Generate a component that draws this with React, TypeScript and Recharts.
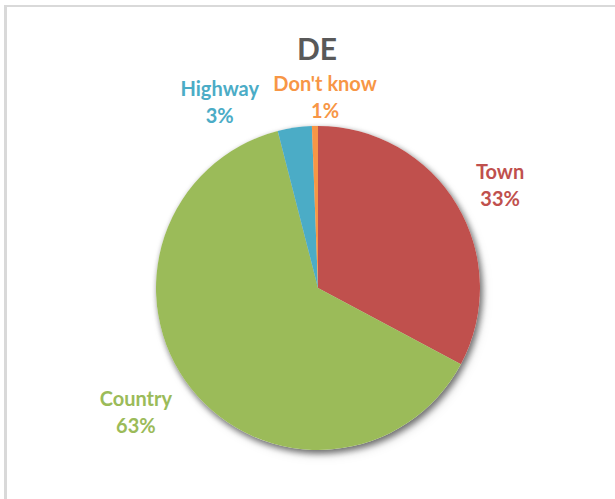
import { PieChart, Pie, Cell } from "recharts";

// road type shares for DE, clockwise from 12 o'clock
const categories = ["Town", "Country", "Highway", "Don't know"];
const shares = [32.8, 63.2, 3.4, 0.6];
const colors = ["#C0504D", "#9BBB59", "#4BACC6", "#F79646"];

const data = categories.map((name, i) => ({ name, value: shares[i] }));

const RADIAN = Math.PI / 180;

// Excel "best fit" label placement, nudged away from the mid-angle point
const labelNudge: Record<string, [number, number]> = {
  Town: [2, 5],
  Country: [-17, -6],
  Highway: [-68, 22],
  "Don't know": [11, 19],
};

const font = "Lato, 'Open Sans', sans-serif";

function renderLabel(props: any) {
  const { cx, cy, midAngle, outerRadius, index, name, percent } = props;
  const r = outerRadius + 48;
  const [nx, ny] = labelNudge[name] || [0, 0];
  const x = cx + r * Math.cos(-midAngle * RADIAN) + nx;
  const y = cy + r * Math.sin(-midAngle * RADIAN) + ny;
  return (
    <text
      x={x}
      y={y}
      textAnchor="middle"
      fill={colors[index]}
      fontFamily={font}
      fontWeight={700}
      fontSize={20}
    >
      <tspan x={x} dy={-6}>
        {name}
      </tspan>
      <tspan x={x} dy={27}>
        {`${Math.round((percent || 0) * 100)}%`}
      </tspan>
    </text>
  );
}

export default function App() {
  return (
    <div
      style={{
        position: "absolute",
        left: 0,
        top: 0,
        width: 615,
        height: 499,
        background: "#fff",
        overflow: "hidden",
      }}
    >
      <style>{`.pie-shadow { filter: drop-shadow(2px 3px 3px rgba(0,0,0,0.35)); }`}</style>
      <div
        style={{
          position: "absolute",
          left: 4,
          top: 5,
          width: 640,
          height: 520,
          borderTop: "2px solid #d9d9d9",
          borderLeft: "3px solid #d9d9d9",
        }}
      />
      <div style={{ position: "absolute", left: 0, top: 0 }}>
        <PieChart width={615} height={499} margin={{ top: 0, right: 0, bottom: 0, left: 0 }}>
          <Pie
            data={data}
            dataKey="value"
            cx={318}
            cy={288}
            outerRadius={162}
            startAngle={90}
            endAngle={-270}
            fill="#ffffff"
            stroke="none"
            className="pie-shadow"
            label={false}
            labelLine={false}
            isAnimationActive={false}
          />
          <Pie
            data={data}
            dataKey="value"
            nameKey="name"
            cx={318}
            cy={288}
            outerRadius={162}
            startAngle={90}
            endAngle={-270}
            stroke="none"
            label={renderLabel}
            labelLine={false}
            isAnimationActive={false}
          >
            {data.map((_, i) => (
              <Cell key={`cell-${i}`} fill={colors[i]} />
            ))}
          </Pie>
        </PieChart>
      </div>
      <svg
        width={615}
        height={499}
        style={{ position: "absolute", left: 0, top: 0, pointerEvents: "none" }}
      >
        <text
          x={317}
          y={60}
          textAnchor="middle"
          fill="#595959"
          fontFamily={font}
          fontWeight={700}
          fontSize={30}
        >
          DE
        </text>
      </svg>
    </div>
  );
}
